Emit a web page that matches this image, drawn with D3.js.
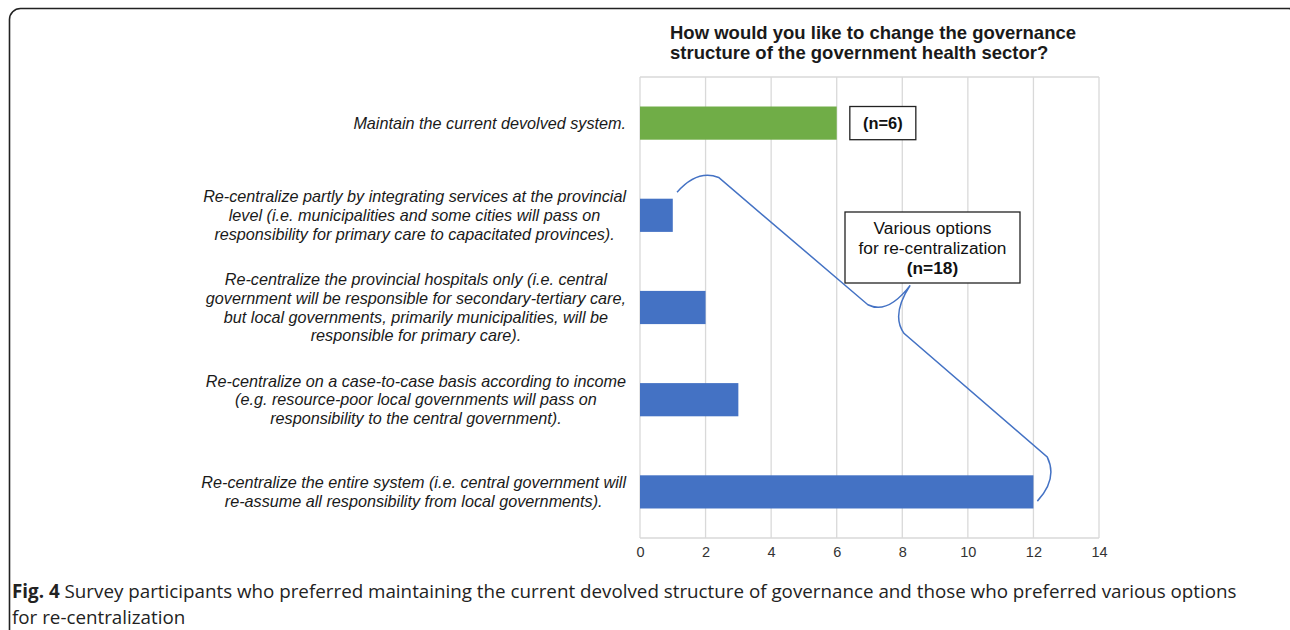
<!DOCTYPE html>
<html><head><meta charset="utf-8">
<script src="https://cdn.jsdelivr.net/npm/d3@7/dist/d3.min.js"></script>
<style>body{margin:0;background:#fff}svg{display:block}</style>
</head><body>
<svg id="c" width="1290" height="630"></svg>
<script>
const categories = [
  "Maintain the current devolved system.",
  "Re-centralize partly by integrating services at the provincial|level (i.e. municipalities and some cities will pass on|responsibility for primary care to capacitated provinces).",
  "Re-centralize the provincial hospitals only (i.e. central|government will be responsible for secondary-tertiary care,|but local governments, primarily municipalities, will be|responsible for primary care).",
  "Re-centralize on a case-to-case basis according to income|(e.g. resource-poor local governments will pass on|responsibility to the central government).",
  "Re-centralize the entire system (i.e. central government will|re-assume all responsibility from local governments)."
];
const values = [6, 1, 2, 3, 12];
const groups = ["maintain", "recentralize", "recentralize", "recentralize", "recentralize"];
const xTicks = [0, 2, 4, 6, 8, 10, 12, 14];
const titleLines = ["How would you like to change the governance", "structure of the government health sector?"];
const noteMaintain = "(n=6)";
const noteRecentral = ["Various options", "for re-centralization", "(n=18)"];
const captionBold = "Fig. 4";
const captionLines = [" Survey participants who preferred maintaining the current devolved structure of governance and those who preferred various options", "for re-centralization"];
// brace annotation path points in (value, row index) units
const brace = [[1.13,0.75],[1.75,0.50],[2.4,0.59],[6.95,1.97],[7.55,2.08],[8.24,1.76],[7.65,2.08],[8.05,2.28],[12.42,3.62],[12.75,3.86],[12.12,4.10]];

const svg = d3.select("#c");
const colors = {maintain:"#70ad47", recentralize:"#4472c4"};
const FONT = "'Liberation Sans', Arial, sans-serif";

// frame
svg.append("rect").attr("x",9.5).attr("y",8.5).attr("width",1290).attr("height",640)
  .attr("rx",11).attr("fill","none").attr("stroke","#222").attr("stroke-width",1.6);

const m = {l:640, r:1099, t:77, b:538};
const x = d3.scaleLinear().domain([0,14]).range([m.l, m.r]);
const y = d3.scaleBand().domain(d3.range(categories.length)).range([m.t, m.b]).paddingInner(0.64).paddingOuter(0.32);

// grid
svg.append("g").selectAll("line").data(xTicks).join("line")
  .attr("x1",d=>x(d)).attr("x2",d=>x(d)).attr("y1",m.t).attr("y2",m.b)
  .attr("stroke","#d9d9d9").attr("stroke-width",1.3);
svg.append("line").attr("x1",m.l).attr("x2",m.r).attr("y1",m.t).attr("y2",m.t).attr("stroke","#d9d9d9").attr("stroke-width",1.3);
svg.append("line").attr("x1",m.l).attr("x2",m.r).attr("y1",m.b).attr("y2",m.b).attr("stroke","#d9d9d9").attr("stroke-width",1.3);

// axis
const ax = svg.append("g").attr("transform",`translate(0,${m.b})`)
  .call(d3.axisBottom(x).tickValues(xTicks).tickSize(0).tickPadding(9));
ax.select(".domain").remove();
ax.selectAll("text").attr("font-family",FONT).attr("font-size",14.5).attr("fill","#333");

// bars
svg.append("g").selectAll("rect").data(values).join("rect")
  .attr("x",x(0)).attr("y",(d,i)=>y(i)).attr("width",d=>x(d)-x(0)).attr("height",y.bandwidth())
  .attr("fill",(d,i)=>colors[groups[i]]);

// category labels
const labRight = 626;
categories.forEach((c,i)=>{
  const lines = c.split("|");
  const g = svg.append("g");
  const lh = 18.7;
  const cy = y(i)+y.bandwidth()/2;
  const t = g.selectAll("text").data(lines).join("text")
    .attr("font-family",FONT).attr("font-style","italic")
    .attr("font-size",16.2).attr("fill","#1a1a1a").attr("text-anchor","middle")
    .attr("y",(d,k)=>cy + (k-(lines.length-1)/2)*lh).attr("dy","0.35em").text(d=>d);
  let maxW = 0; t.each(function(){maxW=Math.max(maxW,this.getComputedTextLength());});
  t.attr("x", labRight - maxW/2);
});

// title
svg.append("g").selectAll("text").data(titleLines).join("text")
  .attr("x",670).attr("y",(d,i)=>39+i*20)
  .attr("font-family",FONT).attr("font-weight","bold").attr("font-size",18.5).attr("fill","#1a1a1a")
  .text(d=>d);

// n=6 box
const b1 = {x:x(6.4), y:y(0), w:66, h:y.bandwidth()};
svg.append("rect").attr("x",b1.x).attr("y",b1.y).attr("width",b1.w).attr("height",b1.h).attr("fill","#fff").attr("stroke","#222").attr("stroke-width",1.3);
svg.append("text").attr("x",b1.x+b1.w/2).attr("y",b1.y+b1.h/2).attr("dy","0.35em").attr("text-anchor","middle")
  .attr("font-family",FONT).attr("font-weight","bold").attr("font-size",16.4).attr("fill","#111").text(noteMaintain);

// brace
const ry = d3.scaleLinear().domain([0,4]).range([y(0)+y.bandwidth()/2, y(4)+y.bandwidth()/2]);
const P = brace.map(([v,r])=>[x(v), ry(r)]);
const p = d3.path();
p.moveTo(...P[0]);
p.quadraticCurveTo(...P[1], ...P[2]);
p.lineTo(...P[3]);
p.quadraticCurveTo(...P[4], ...P[5]);
p.quadraticCurveTo(...P[6], ...P[7]);
p.lineTo(...P[8]);
p.quadraticCurveTo(...P[9], ...P[10]);
svg.append("path").attr("d",p.toString()).attr("fill","none").attr("stroke","#4472c4").attr("stroke-width",1.5);

// re-centralization box
const b2 = {x:845, y:212, w:175, h:71};
svg.append("rect").attr("x",b2.x).attr("y",b2.y).attr("width",b2.w).attr("height",b2.h).attr("fill","#fff").attr("stroke","#222").attr("stroke-width",1.3);
svg.append("g").selectAll("text").data(noteRecentral).join("text")
  .attr("x",b2.x+b2.w/2).attr("y",(d,i)=>b2.y+16+i*20).attr("dy","0.35em").attr("text-anchor","middle")
  .attr("font-family",FONT).attr("font-size",17.3).attr("fill","#111")
  .attr("font-weight",(d,i)=>i===2?"bold":"normal").text(d=>d);

// caption
const cap = svg.append("g").attr("font-family","'Open Sans', sans-serif").attr("font-size",18.8).attr("fill","#222");
const c1 = cap.append("text").attr("x",12).attr("y",598);
c1.append("tspan").attr("font-weight","bold").text(captionBold);
c1.append("tspan").text(captionLines[0]);
cap.append("text").attr("x",12).attr("y",624).text(captionLines[1]);
</script>
</body></html>
